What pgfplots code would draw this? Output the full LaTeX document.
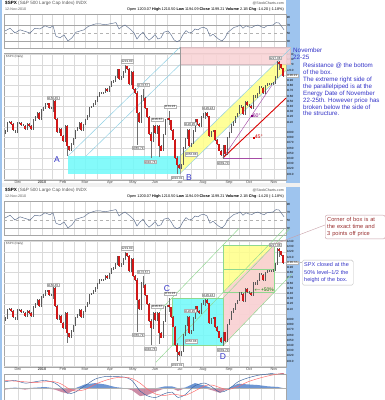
\documentclass[border=0pt]{standalone}
\usepackage{pgfplots}
\usepackage{pgfplotstable}
\pgfplotsset{compat=1.18}
\usepackage{fontspec}
\setmainfont{Liberation Sans}
\definecolor{gridc}{HTML}{DADADA}
\definecolor{stripc}{HTML}{9EC4EE}
\definecolor{cyanbox}{HTML}{6FFAFA}
\definecolor{pinkbox}{HTML}{F9D2D4}
\definecolor{yelbox}{HTML}{FFFF88}
\definecolor{ltblue}{HTML}{8CCFE4}
\definecolor{txtblue}{HTML}{3434C8}
\definecolor{txtred}{HTML}{9A3030}
\definecolor{candred}{HTML}{D01818}
\definecolor{candgray}{HTML}{707070}
\definecolor{lgreen}{HTML}{8FD88F}
\definecolor{rsic}{HTML}{5A6C8C}
\definecolor{histblue}{HTML}{4A7CC8}
\definecolor{histred}{HTML}{C07090}
\definecolor{boxline}{HTML}{C8A0A8}

\pgfplotstableread{
x o c
5 1088 1093
7 1093 1109
9 1109 1110
11 1110 1106
13 1106 1094
15 1094 1091
17 1091 1108
19 1108 1109
21 1109 1104
23 1104 1103
25 1103 1096
27 1096 1106
29 1106 1102
31 1102 1096
33 1096 1114
35 1114 1120
37 1120 1127
39 1127 1115
41 1115 1133
43 1133 1137
45 1137 1145
47 1145 1146
49 1146 1136
51 1136 1137
53 1137 1150
55 1150 1116
57 1116 1091
59 1091 1097
61 1097 1084
63 1084 1073
65 1073 1103
67 1103 1063
69 1063 1056
71 1056 1068
73 1068 1078
75 1078 1094
77 1094 1099
79 1099 1108
81 1108 1094
83 1094 1105
85 1105 1115
87 1115 1122
89 1122 1138
91 1138 1140
93 1140 1145
95 1145 1150
97 1150 1159
99 1159 1166
101 1166 1165
103 1165 1167
105 1167 1173
107 1173 1169
109 1169 1178
111 1178 1187
113 1187 1189
115 1189 1197
117 1197 1211
119 1211 1192
121 1192 1197
123 1197 1207
125 1207 1217
127 1217 1212
129 1212 1183
131 1183 1206
133 1206 1173
135 1173 1166
137 1166 1128
139 1128 1110
141 1110 1160
143 1160 1157
145 1157 1136
147 1136 1120
149 1120 1087
151 1087 1074
153 1074 1103
155 1103 1089
157 1089 1102
159 1102 1064
161 1064 1055
163 1055 1086
165 1086 1115
167 1115 1117
169 1117 1113
171 1113 1095
173 1095 1076
175 1076 1041
177 1041 1027
179 1027 1022
181 1022 1028
183 1028 1060
185 1060 1078
187 1078 1095
189 1095 1064
191 1064 1069
193 1069 1093
195 1093 1115
197 1115 1106
199 1106 1102
201 1102 1120
203 1120 1125
205 1125 1127
207 1127 1121
209 1121 1083
211 1083 1092
213 1092 1094
215 1094 1075
217 1075 1067
219 1067 1055
221 1055 1047
223 1047 1065
225 1065 1049
227 1049 1080
229 1080 1090
231 1090 1104
233 1104 1110
235 1110 1121
237 1121 1126
239 1126 1142
241 1142 1139
243 1139 1125
245 1125 1148
247 1148 1143
249 1143 1141
251 1141 1137
253 1137 1160
255 1160 1158
257 1158 1165
259 1165 1178
261 1178 1176
263 1176 1166
265 1166 1180
267 1180 1183
269 1183 1182
271 1182 1183
273 1183 1185
275 1185 1197
277 1197 1225
279 1225 1221
281 1221 1213
283 1213 1199
}\px

\pgfplotstableread{
x lo hi
53 1130 1150.45
67 1044.5 1072
125 1205 1219.8
137 1065.79 1170
143 1150 1173.57
151 1040.78 1090
159 1042 1100
169 1105 1131.23
177 1010.91 1045
205 1115 1129.24
223 1039.7 1066
279 1210 1227.08
}\wick

\pgfplotstableread{
x r
5 55
10 62
15 50
20 58
25 54
30 50
35 62
40 60
45 68
50 63
53 68
56 42
60 38
64 45
68 30
72 38
76 52
80 55
84 58
88 66
92 70
96 73
100 73
104 71
108 72
112 74
116 76
119 60
122 66
125 70
128 64
131 58
134 50
137 35
140 45
143 52
146 40
149 32
152 38
155 46
158 35
161 38
164 52
168 55
171 46
174 33
177 28
180 32
183 46
186 56
189 50
192 52
195 60
198 58
201 63
204 64
207 60
210 42
213 47
216 40
219 34
222 30
225 38
228 52
231 58
234 64
237 66
240 70
243 62
246 68
249 65
252 64
255 68
258 70
261 66
264 63
267 68
270 69
273 70
276 76
279 75
282 65
284 58
}\rsi

\pgfplotstableread{
x m s h
5 10 12 -2
15 12 11 1
25 8 10 -2
35 10 9 1
45 12 10 2
55 8 10 -2
62 0 6 -6
68 -8 0 -8
75 -6 -4 -2
85 4 -2 6
95 14 6 8
105 18 12 6
115 18 16 2
125 17 17 0
132 12 15 -3
140 -4 8 -12
148 -12 -2 -10
156 -14 -9 -5
165 -8 -11 3
172 -6 -9 3
178 -14 -10 -4
185 -10 -11 1
195 4 -4 8
205 8 4 4
212 2 5 -3
220 -6 1 -7
228 -2 -2 0
238 10 3 7
248 16 10 6
258 20 15 5
268 22 19 3
278 24 22 2
284 22 23 -1
}\macd

\tikzset{ptag/.style={draw=gray!60, fill=white, font=\fontsize{3}{3}\selectfont, inner sep=0.5pt, text=gray!30!black}}
\pgfplotsset{
  basepanel/.style={scale only axis, width=282pt, xmin=4, xmax=286,
    axis line style={draw=gray!70, line width=0.4pt},
    tick style={draw=none},
    xtick={18,42,63,85,110,133,155,180,203,229,249,274},
    minor xtick={30,52,74,97,121,144,167,191,216,239,261},
    xmajorgrids, xminorgrids,
    grid style={gridc, line width=0.35pt},
    minor grid style={gridc, line width=0.35pt},
    /pgf/number format/.cd, 1000 sep={}, assume math mode=true},
  nolabx/.style={xticklabels={}},
  monthx/.style={xticklabels={Dec,\textbf{2010},Feb,Mar,Apr,May,Jun,Jul,Aug,Sep,Oct,Nov},
    xticklabel style={font=\fontsize{3.8}{3.8}\selectfont, text=gray!60!black, inner sep=0.5pt}},
  pricepanel/.style={basepanel, monthx, height=127pt, ymin=998.5, ymax=1242.7, clip=false,
    ytick={1010,1020,1030,1040,1050,1060,1070,1080,1090,1110,1120,1130,1140,1150,1160,1170,1180,1190,1210,1220,1230,1240},
    yticklabel pos=right,
    yticklabel style={font=\fontsize{3}{3}\selectfont, inner sep=0.6pt},
    extra y ticks={1000,1020,...,1240}, extra y tick labels={},
    extra y tick style={grid=major}},
  rsipanel/.style={basepanel, nolabx, height=34pt, ymin=12.5, ymax=97.5,
    ytick={10,30,50,70,90}, yticklabel pos=right,
    yticklabel style={font=\fontsize{3}{3}\selectfont, inner sep=0.6pt}},
}

\newcommand{\candles}{%
  \addplot[draw=none, mark=none, forget plot, error bars/.cd, y dir=both, y explicit, error mark=none,
    error bar style={draw=candgray, line width=0.45pt}]
    table[x=x, y expr={(\thisrow{lo}+\thisrow{hi})/2}, y error expr={(\thisrow{hi}-\thisrow{lo})/2}] {\wick};
  \addplot[draw=none, mark=none, forget plot, error bars/.cd, y dir=both, y explicit, error mark=none,
    error bar style={draw=candgray!80!black, line width=0.55pt}]
    table[x=x, y expr={(\thisrow{o}+\thisrow{c})/2}, y error expr={abs(\thisrow{o}-\thisrow{c})/2+1.5}] {\px};
  \addplot[draw=none, mark=none, forget plot, restrict expr to domain={\thisrow{o}-\thisrow{c}}{4:1000},
    error bars/.cd, y dir=both, y explicit, error mark=none,
    error bar style={draw=candred, line width=1.1pt}]
    table[x=x, y expr={(\thisrow{o}+\thisrow{c})/2}, y error expr={abs(\thisrow{o}-\thisrow{c})/2}] {\px};
}
\newcommand{\pricetags}{%
  \node[ptag] at (axis cs:53,1156) {1150.45};
  \node[ptag] at (axis cs:127,1227) {1219.80};
  \node[ptag] at (axis cs:143,1181) {1173.57};
  \node[ptag] at (axis cs:138,1060) {1065.79};
  \node[ptag] at (axis cs:150,1033) {1040.78};
  \node[ptag] at (axis cs:157,1114) {1105.67};
  \node[ptag] at (axis cs:170,1139) {1131.23};
  \node[ptag] at (axis cs:177,1002) {1010.91};
  \node[ptag] at (axis cs:190,1106) {1120.95};
  \node[ptag] at (axis cs:208,1137) {1129.24};
  \node[ptag] at (axis cs:191,1048) {1056.88};
  \node[ptag] at (axis cs:223,1031) {1039.70};
  \node[ptag] at (axis cs:275,1233) {1227.08};
  \node[ptag, fill=white, anchor=west] at (axis cs:286,1199.2) {1199.21};
}
\newcommand{\rsibody}{%
  \draw[gray!70, line width=0.4pt] (axis cs:4,70) -- (axis cs:286,70);
  \draw[gray!70, line width=0.4pt] (axis cs:4,30) -- (axis cs:286,30);
  \draw[gray!60, dashed, line width=0.3pt] (axis cs:4,50) -- (axis cs:286,50);
  \addplot[rsic, line width=0.45pt] table[x=x, y=r] {\rsi};
}

\begin{document}
\begin{tikzpicture}[x=1pt,y=1pt]
\path[use as bounding box] (0,0) rectangle (384,400);
\fill[white] (0,0) rectangle (384,400);
\fill[stripc] (286,0) rectangle (300,400);
\fill[stripc] (0,0) rectangle (2,400);
\fill[gray!12] (2,213) rectangle (300,217);
% ---------- headers ----------
\node[anchor=base west, font=\fontsize{4.6}{5}\selectfont, inner sep=0] at (5,395) {\textbf{\$SPX} \textcolor{gray!70!black}{(S\&P 500 Large Cap Index) INDX}};
\node[anchor=base west, font=\fontsize{3.6}{4}\selectfont, inner sep=0, text=gray!70!black] at (5,389.5) {12-Nov-2010};
\node[anchor=base east, font=\fontsize{3.8}{4}\selectfont, inner sep=0] at (284,389.5) {Open 1203.07 \textbf{High} 1210.50 \textbf{Low} 1194.09 \textbf{Close} 1199.21 \textbf{Volume} 2.1B \textbf{Chg} -14.20 (-1.18\%)};
\node[anchor=base east, font=\fontsize{3.6}{4}\selectfont, inner sep=0, text=gray!60!black] at (284,395.5) {@StockCharts.com};
\node[anchor=base west, font=\fontsize{4.6}{5}\selectfont, inner sep=0] at (5,208) {\textbf{\$SPX} \textcolor{gray!70!black}{(S\&P 500 Large Cap Index) INDX}};
\node[anchor=base west, font=\fontsize{3.6}{4}\selectfont, inner sep=0, text=gray!70!black] at (5,202.5) {12-Nov-2010};
\node[anchor=base east, font=\fontsize{3.8}{4}\selectfont, inner sep=0] at (284,202.5) {Open 1200.07 \textbf{High} 1210.50 \textbf{Low} 1194.09 \textbf{Close} 1199.21 \textbf{Volume} 2.1B \textbf{Chg} -14.20 (-1.18\%)};
\node[anchor=base east, font=\fontsize{3.6}{4}\selectfont, inner sep=0, text=gray!60!black] at (284,208.5) {@StockCharts.com};

% ---------- TOP RSI ----------
\begin{axis}[rsipanel, at={(4pt,352pt)}, anchor=south west]
\rsibody
\end{axis}

% ---------- TOP PRICE ----------
\begin{axis}[pricepanel, at={(4pt,220pt)}, anchor=south west]
\fill[pinkbox, fill opacity=0.85] (axis cs:180,1220.4) rectangle (axis cs:290,1254);
\draw[boxline!70, line width=0.3pt] (axis cs:180,1220.4) rectangle (axis cs:290,1254);
\fill[yelbox, fill opacity=0.85] (axis cs:180,1010.9) -- (axis cs:180,1044.5) -- (axis cs:274,1220.4) -- (axis cs:286,1220.4) -- (axis cs:286,1209) -- cycle;
\fill[cyanbox, fill opacity=0.85] (axis cs:68,1010.9) rectangle (axis cs:180,1044.5);
\draw[ltblue, line width=0.45pt] (axis cs:68,1044.5) -- (axis cs:180,1254);
\draw[ltblue, line width=0.45pt] (axis cs:86,1044.5) -- (axis cs:180,1220.4);
\draw[ltblue, line width=0.45pt] (axis cs:180,1044.5) -- (axis cs:292,1254);
\draw[ltblue, line width=0.45pt] (axis cs:180,1010.9) -- (axis cs:292,1220.4);
\draw[gray!80, line width=0.4pt] (axis cs:180,1010.9) -- (axis cs:180,1254);
\draw[violet!70, line width=0.45pt] (axis cs:223,1041) -- (axis cs:272,1181);
\draw[violet!70, line width=0.45pt] (axis cs:223,1041) -- (axis cs:262,1041);
\draw[red!85!black, line width=0.9pt] (axis cs:223,1041) -- (axis cs:286,1156);
\candles
\pricetags
\node[font=\fontsize{8.5}{9}\selectfont, text=txtblue] at (axis cs:57,1037) {A};
\node[font=\fontsize{8.5}{9}\selectfont, text=txtblue] at (axis cs:189,1003) {B};
\node[anchor=west, font=\fontsize{5.2}{6}\selectfont, text=violet, inner sep=0] at (axis cs:251,1123) {\rule{1.6pt}{1.6pt}60\textdegree};
\node[anchor=west, font=\fontsize{5.2}{6}\selectfont, text=red!85!black, inner sep=0] at (axis cs:253,1081) {\rule{1.6pt}{1.6pt}45\textdegree};
\node[anchor=west, font=\fontsize{3}{3}\selectfont, text=gray!60!black, inner sep=0] at (axis cs:6,1236) {\$SPX (Daily)};
\end{axis}

% ---------- BOTTOM RSI ----------
\begin{axis}[rsipanel, at={(4pt,165pt)}, anchor=south west]
\rsibody
\end{axis}

% ---------- BOTTOM PRICE ----------
\begin{axis}[pricepanel, at={(4pt,33pt)}, anchor=south west]
\fill[yelbox, fill opacity=0.85] (axis cs:223,1141.5) rectangle (axis cs:274,1233);
\fill[pinkbox, fill opacity=0.95] (axis cs:223,1039.7) -- (axis cs:223,1141.5) -- (axis cs:274,1233) -- (axis cs:274,1141.5) -- cycle;
\fill[cyanbox, fill opacity=0.85] (axis cs:172,1039.7) rectangle (axis cs:223,1131.23);
\draw[lgreen, line width=0.4pt] (axis cs:223,1141.5) rectangle (axis cs:274,1233);
\draw[lgreen, line width=0.4pt] (axis cs:223,1187.25) -- (axis cs:274,1187.25);
\draw[lgreen, line width=0.4pt] (axis cs:172,1039.7) rectangle (axis cs:223,1131.23);
\draw[lgreen, line width=0.45pt] (axis cs:160,1107.2) -- (axis cs:239,1265);
\draw[lgreen, line width=0.45pt] (axis cs:156,1007.7) -- (axis cs:284,1263.7);
\draw[lgreen, line width=0.45pt] (axis cs:223,1131.23) -- (axis cs:290,1265);
\draw[lgreen, line width=0.45pt] (axis cs:223,1039.7) -- (axis cs:292,1177.7);
\candles
\pricetags
\node[font=\fontsize{8.5}{9}\selectfont, text=txtblue] at (axis cs:167,1150) {C};
\node[font=\fontsize{8.5}{9}\selectfont, text=txtblue] at (axis cs:223,1019) {D};
\node[anchor=west, font=\fontsize{5}{6}\selectfont, text=green!50!black, inner sep=0] at (axis cs:254,1146.5) {$\leftarrow$+50\%};
\node[anchor=west, font=\fontsize{3}{3}\selectfont, text=gray!60!black, inner sep=0] at (axis cs:6,1236) {\$SPX (Daily)};
\end{axis}

% ---------- MACD ----------
\begin{axis}[basepanel, nolabx, at={(4pt,0pt)}, anchor=south west, height=26pt, ymin=-18, ymax=22, ytick={0}, yticklabels={}, clip=true]
\addplot[fill=histblue, fill opacity=0.8, draw=none] table[x=x, y expr={max(\thisrow{h},0)}] {\macd} \closedcycle;
\addplot[fill=histred, fill opacity=0.8, draw=none] table[x=x, y expr={min(\thisrow{h},0)}] {\macd} \closedcycle;
\draw[gray!60, line width=0.3pt] (axis cs:4,0) -- (axis cs:286,0);
\addplot[histblue!80!black, line width=0.45pt, smooth] table[x=x, y=m] {\macd};
\addplot[red!60, line width=0.45pt, smooth] table[x=x, y=s] {\macd};
\end{axis}

% ---------- right column text ----------
\node[anchor=north west, align=left, text=txtblue, font=\fontsize{6.3}{6.6}\selectfont, inner sep=0] at (293,352) {November\\22-25};
\node[anchor=north west, align=left, text=txtblue, font=\fontsize{6.2}{6.9}\selectfont, inner sep=0] at (303,337) {Resistance @ the bottom\\of the box.\\The extreme right side of\\the parallelpiped is at the\\Energy Date of November\\22-25th. However price has\\broken below the side of\\the structure.};
\draw[boxline, line width=0.4pt] (325,175) -- (275,156);
\node[anchor=north west, draw=boxline, rounded corners=2pt, fill=white, align=left, text width=56pt, text=txtred, font=\fontsize{5.7}{7.2}\selectfont, inner sep=2pt] at (325,185) {Corner of box is at\\the exact time and\\3 points off price};
\draw[gray!50, line width=0.4pt] (302,138) -- (294,138);
\node[anchor=north west, draw=gray!50, rounded corners=1.5pt, fill=white, align=left, text width=47pt, text=txtblue, font=\fontsize{5.5}{7.9}\selectfont, inner sep=2pt] at (302,140) {SPX closed at the\\50\% level--1/2 the\\height of the box.};
\end{tikzpicture}
\end{document}
